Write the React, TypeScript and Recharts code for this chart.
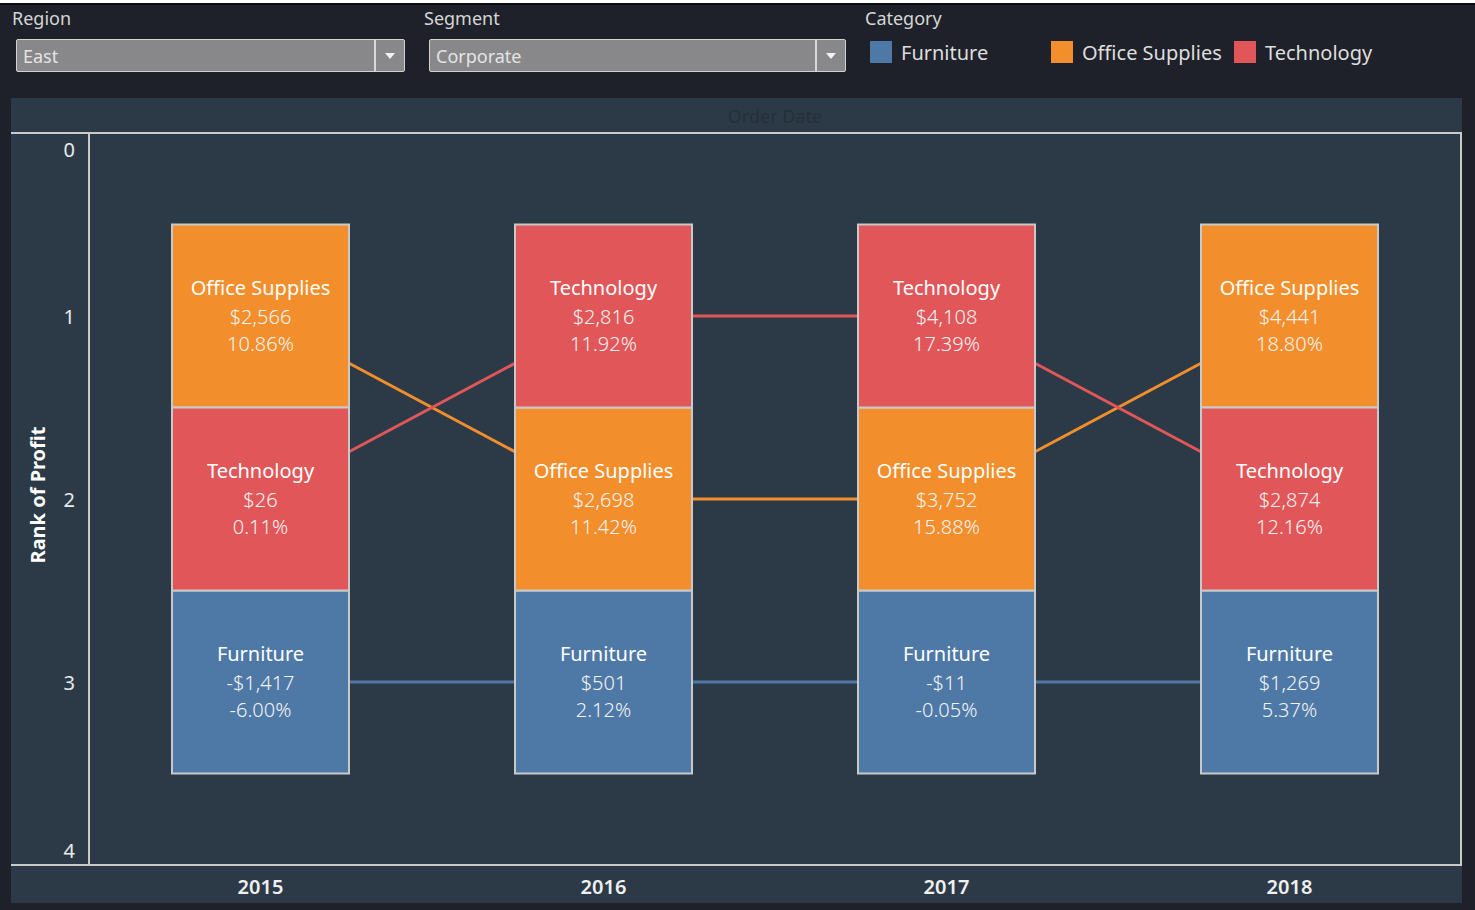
import { Bar, ComposedChart, LabelList, Line, XAxis, YAxis } from "recharts";

const years = ["2015", "2016", "2017", "2018"];
const categories = ["Furniture", "Office Supplies", "Technology"];

const furnitureRank = [3, 3, 3, 3];
const officeRank = [1, 2, 2, 1];
const techRank = [2, 1, 1, 2];

const furnitureProfit = [-1417, 501, -11, 1269];
const officeProfit = [2566, 2698, 3752, 4441];
const techProfit = [26, 2816, 4108, 2874];

const furniturePct = [-6.0, 2.12, -0.05, 5.37];
const officePct = [10.86, 11.42, 15.88, 18.8];
const techPct = [0.11, 11.92, 17.39, 12.16];

const rankTicks = [0, 1, 2, 3, 4];

const COLORS: Record<string, string> = {
  Furniture: "#4e79a7",
  "Office Supplies": "#f28e2b",
  Technology: "#e15759",
};

const FONT = "'Noto Sans', 'Open Sans', sans-serif";
const PAGE_BG = "#1e2129";
const PANEL_BG = "#2c3a47";
const RULE = "#c9c9c9";

const rows = years.map((year, i) => ({
  year,
  furnitureRank: furnitureRank[i],
  officeRank: officeRank[i],
  techRank: techRank[i],
  furnitureBox: [furnitureRank[i] - 0.5, furnitureRank[i] + 0.5],
  officeBox: [officeRank[i] - 0.5, officeRank[i] + 0.5],
  techBox: [techRank[i] - 0.5, techRank[i] + 0.5],
}));

function formatMoney(v: number) {
  const s = "$" + Math.abs(v).toLocaleString("en-US");
  return v < 0 ? "-" + s : s;
}

function formatPct(v: number) {
  return v.toFixed(2) + "%";
}

function boxLabel(name: string, profits: number[], pcts: number[]) {
  return (props: any) => {
    const { x, y, width, height, index } = props;
    const top = Math.min(Number(y), Number(y) + Number(height));
    const h = Math.abs(Number(height));
    const cx = Number(x) + Number(width) / 2;
    const cy = top + h / 2;
    return (
      <g style={{ fontFamily: FONT }}>
        <text x={cx} y={cy - 29} textAnchor="middle" dominantBaseline="central" fill="#ffffff" fontSize={20}>
          {name}
        </text>
        <text x={cx} y={cy} textAnchor="middle" dominantBaseline="central" fill="#f3f3f3" fontSize={20} fontWeight={300}>
          {formatMoney(profits[index])}
        </text>
        <text x={cx} y={cy + 27} textAnchor="middle" dominantBaseline="central" fill="#f3f3f3" fontSize={20} fontWeight={300}>
          {formatPct(pcts[index])}
        </text>
      </g>
    );
  };
}

function RankTick(props: any) {
  const { x, y, payload, index } = props;
  let dy = 0;
  if (index === 0) dy = 16;
  if (index === rankTicks.length - 1) dy = -15;
  return (
    <text x={x - 6} y={y + dy} textAnchor="end" dominantBaseline="central" fill="#eaeaea" fontSize={20} fontFamily={FONT}>
      {payload.value}
    </text>
  );
}

function Dropdown({ left, width, value }: { left: number; width: number; value: string }) {
  return (
    <div
      style={{
        position: "absolute",
        left,
        top: 39,
        width,
        height: 33,
        background: "#88888b",
        border: "1px solid #d2d2d2",
        borderRadius: 2,
        boxSizing: "border-box",
      }}
    >
      <span style={{ position: "absolute", left: 6, top: 4, fontSize: 18, color: "#e4e4e4" }}>{value}</span>
      <div style={{ position: "absolute", right: 28, top: 0, bottom: 0, width: 2, background: "#d8d8d8" }} />
      <div
        style={{
          position: "absolute",
          right: 9,
          top: 13,
          width: 0,
          height: 0,
          borderLeft: "5px solid transparent",
          borderRight: "5px solid transparent",
          borderTop: "6px solid #f2f2f2",
        }}
      />
    </div>
  );
}

export default function App() {
  return (
    <div
      style={{
        position: "absolute",
        left: 0,
        top: 0,
        width: 1475,
        height: 910,
        background: PAGE_BG,
        fontFamily: FONT,
        overflow: "hidden",
      }}
    >
      <div style={{ position: "absolute", left: 0, top: 0, width: 1475, height: 3, background: "#ffffff" }} />
      <div style={{ position: "absolute", left: 0, top: 3, width: 1475, height: 2, background: "#0b0c0f" }} />

      {/* filters */}
      <div style={{ position: "absolute", left: 12, top: 6, fontSize: 18, color: "#d6d6d6" }}>Region</div>
      <Dropdown left={16} width={389} value="East" />
      <div style={{ position: "absolute", left: 424, top: 6, fontSize: 18, color: "#d6d6d6" }}>Segment</div>
      <Dropdown left={429} width={417} value="Corporate" />

      {/* legend */}
      <div style={{ position: "absolute", left: 865, top: 6, fontSize: 18, color: "#d6d6d6" }}>Category</div>
      {categories.map((c, i) => {
        const lefts = [870, 1051, 1234];
        return (
          <div key={c} style={{ position: "absolute", left: lefts[i], top: 41, display: "flex", alignItems: "center" }}>
            <div style={{ width: 22, height: 22, background: COLORS[c] }} />
            <span style={{ marginLeft: 9, fontSize: 20, color: "#dedede", lineHeight: "22px", position: "relative", top: 1 }}>{c}</span>
          </div>
        );
      })}

      {/* panel */}
      <div style={{ position: "absolute", left: 11, top: 98, width: 1451, height: 805, background: PANEL_BG }} />
      <div
        style={{
          position: "absolute",
          left: 89,
          top: 98,
          width: 1372,
          height: 35,
          display: "flex",
          alignItems: "center",
          justifyContent: "center",
          fontSize: 18,
          color: "#243039",
        }}
      >
        Order Date
      </div>

      <div
        style={{
          position: "absolute",
          left: 20,
          top: 495,
          transform: "translate(-50%, -50%) rotate(-90deg)",
          transformOrigin: "center",
          marginLeft: 17,
          fontSize: 20,
          fontWeight: 700,
          color: "#ffffff",
          whiteSpace: "nowrap",
        }}
      >
        Rank of Profit
      </div>

      <div style={{ position: "absolute", left: 10, top: 133 }}>
        <ComposedChart
          width={1452}
          height={770}
          data={rows}
          margin={{ top: 0, right: 1, bottom: 0, left: 0 }}
          barSize={177}
          barGap={-177}
        >
          <XAxis
            dataKey="year"
            height={38}
            axisLine={false}
            tickLine={false}
            tick={{ fill: "#f0f0f0", fontSize: 20, fontWeight: 600, fontFamily: FONT }}
            dy={7}
          />
          <YAxis
            type="number"
            domain={[0, 4]}
            ticks={rankTicks}
            reversed
            width={79}
            axisLine={{ stroke: RULE, strokeWidth: 2 }}
            tickLine={false}
            tick={<RankTick />}
            interval={0}
          />
          <Line dataKey="furnitureRank" stroke={COLORS.Furniture} strokeWidth={3} dot={false} isAnimationActive={false} zIndex={100} />
          <Line dataKey="officeRank" stroke={COLORS["Office Supplies"]} strokeWidth={3} dot={false} isAnimationActive={false} zIndex={100} />
          <Line dataKey="techRank" stroke={COLORS.Technology} strokeWidth={3} dot={false} isAnimationActive={false} zIndex={100} />
          <Bar dataKey="furnitureBox" fill={COLORS.Furniture} stroke={RULE} strokeWidth={2} isAnimationActive={false}>
            <LabelList dataKey="furnitureRank" content={boxLabel("Furniture", furnitureProfit, furniturePct)} />
          </Bar>
          <Bar dataKey="officeBox" fill={COLORS["Office Supplies"]} stroke={RULE} strokeWidth={2} isAnimationActive={false}>
            <LabelList dataKey="officeRank" content={boxLabel("Office Supplies", officeProfit, officePct)} />
          </Bar>
          <Bar dataKey="techBox" fill={COLORS.Technology} stroke={RULE} strokeWidth={2} isAnimationActive={false}>
            <LabelList dataKey="techRank" content={boxLabel("Technology", techProfit, techPct)} />
          </Bar>
        </ComposedChart>
      </div>

      {/* plot frame */}
      <div
        style={{
          position: "absolute",
          left: 11,
          top: 132,
          width: 1451,
          height: 734,
          borderTop: `2px solid ${RULE}`,
          borderBottom: `2px solid ${RULE}`,
          borderRight: `2px solid ${RULE}`,
          boxSizing: "border-box",
          pointerEvents: "none",
        }}
      />
    </div>
  );
}
